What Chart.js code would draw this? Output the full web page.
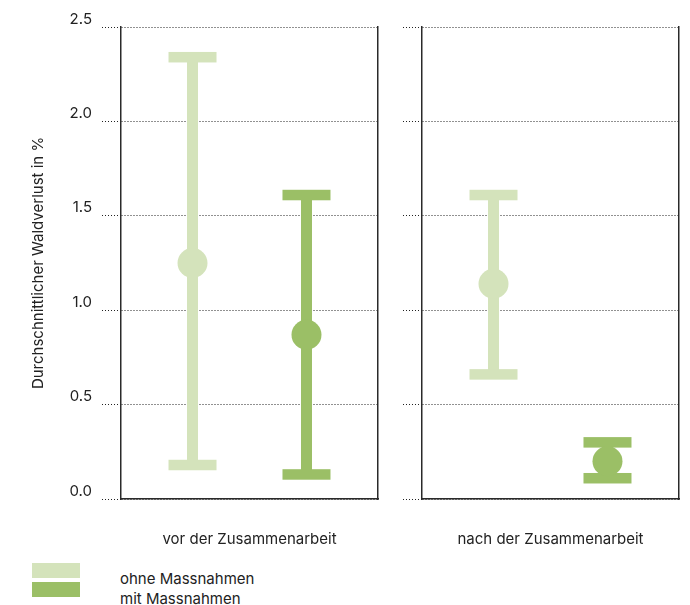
<!DOCTYPE html>
<html>
<head>
<meta charset="utf-8">
<script src="https://cdn.jsdelivr.net/npm/chart.js@4/dist/chart.umd.min.js"></script>
<style>
  html, body { margin: 0; padding: 0; background: #fff; }
  body { width: 690px; height: 605px; position: relative; overflow: hidden; font-family: Inter, "Noto Sans", sans-serif; }
  canvas { position: absolute; top: 0; }
  #c1 { left: 0; }
  #c2 { left: 380px; }
  .sw { position: absolute; left: 32px; width: 48px; height: 15px; }
  .lt { position: absolute; left: 120px; font-size: 15px; line-height: 20px; color: #222; white-space: nowrap; }
</style>
</head>
<body>
<canvas id="c1" width="380" height="560"></canvas>
<canvas id="c2" width="310" height="560"></canvas>
<div class="sw" style="top:563px;background:#d4e3bb"></div>
<div class="sw" style="top:582px;background:#9bbf66"></div>
<div class="lt" style="top:569px">ohne Massnahmen</div>
<div class="lt" style="top:589px">mit Massnahmen</div>
<script>
// ---- data ----
const categories = ['vor der Zusammenarbeit', 'nach der Zusammenarbeit'];
const seriesNames = ['ohne Massnahmen', 'mit Massnahmen'];
const ohneMean = [1.25, 1.14];
const ohneLow  = [0.18, 0.66];
const ohneHigh = [2.34, 1.61];
const mitMean  = [0.87, 0.20];
const mitLow   = [0.13, 0.11];
const mitHigh  = [1.61, 0.30];
const yTicks = [0, 0.5, 1.0, 1.5, 2.0, 2.5];
const yTitle = 'Durchschnittlicher Waldverlust in %';

// ---- styles ----
const LIGHT = '#d4e3bb';
const DARK = '#9bbf66';
const AXIS = '#2a2a2a';
const TEXT = '#222';
Chart.defaults.font.family = 'Inter, "Noto Sans", sans-serif';
Chart.defaults.font.size = 15;
Chart.defaults.color = TEXT;

const errorBarPlugin = {
  id: 'errorBars',
  afterDatasetsDraw(chart) {
    const ctx = chart.ctx;
    const y = chart.scales.y;
    const capW = 48, capH = 10.5, r = 15;
    chart.data.datasets.forEach((ds, di) => {
      const meta = chart.getDatasetMeta(di);
      meta.data.forEach((bar, i) => {
        const [lo, hi] = ds.data[i];
        ctx.save();
        ctx.fillStyle = ds.backgroundColor;
        [lo, hi].forEach(v => {
          const py = y.getPixelForValue(v);
          ctx.fillRect(bar.x - capW / 2, py - capH / 2, capW, capH);
        });
        ctx.beginPath();
        ctx.arc(bar.x, y.getPixelForValue(ds.means[i]), r, 0, Math.PI * 2);
        ctx.fill();
        ctx.restore();
      });
    });
  }
};

function makeChart(id, idx, showLabels) {
  return new Chart(document.getElementById(id), {
    type: 'bar',
    data: {
      labels: [categories[idx]],
      datasets: [
        { label: seriesNames[0], data: [[ohneLow[idx], ohneHigh[idx]]], means: [ohneMean[idx]], backgroundColor: LIGHT },
        { label: seriesNames[1], data: [[mitLow[idx], mitHigh[idx]]], means: [mitMean[idx]], backgroundColor: DARK }
      ]
    },
    options: {
      responsive: false,
      animation: false,
      devicePixelRatio: 1,
      categoryPercentage: 0.887,
      barPercentage: 1,
      maxBarThickness: 11,
      layout: { padding: showLabels ? { left: 29, top: 27, right: 2, bottom: 0 } : { left: 0, top: 27, right: 11, bottom: 0 } },
      plugins: { legend: { display: false }, tooltip: { enabled: false } },
      scales: {
        x: {
          grid: { display: false, drawTicks: false },
          border: { display: true, color: AXIS, width: 1.5 },
          ticks: { padding: 31, color: TEXT, font: { size: 15 } },
          afterFit(s) { s.height = 61; }
        },
        y: {
          min: 0, max: 2.5,
          afterBuildTicks(s) { s.ticks = yTicks.map(v => ({ value: v })); },
          ticks: {
            display: showLabels,
            padding: 10,
            labelOffset: -8,
            color: TEXT,
            font: { size: 15 },
            callback: v => Number(v).toFixed(1)
          },
          grid: { color: '#222', lineWidth: 1, tickLength: 19, drawTicks: true, tickBorderDash: [1, 2] },
          border: { display: true, color: AXIS, width: 1.5, dash: [1, 2] },
          title: { display: showLabels, text: yTitle, color: TEXT, font: { size: 15 }, padding: 0 },
          afterFit(s) { s.width = showLabels ? 92 : 42; }
        },
        yR: {
          position: 'right',
          min: 0, max: 2.5,
          grid: { display: false, drawTicks: false },
          ticks: { display: false },
          border: { display: true, color: AXIS, width: 1.5 },
          afterFit(s) { s.width = 0; }
        }
      }
    },
    plugins: [errorBarPlugin]
  });
}

makeChart('c1', 0, true);
makeChart('c2', 1, false);
</script>
</body>
</html>
